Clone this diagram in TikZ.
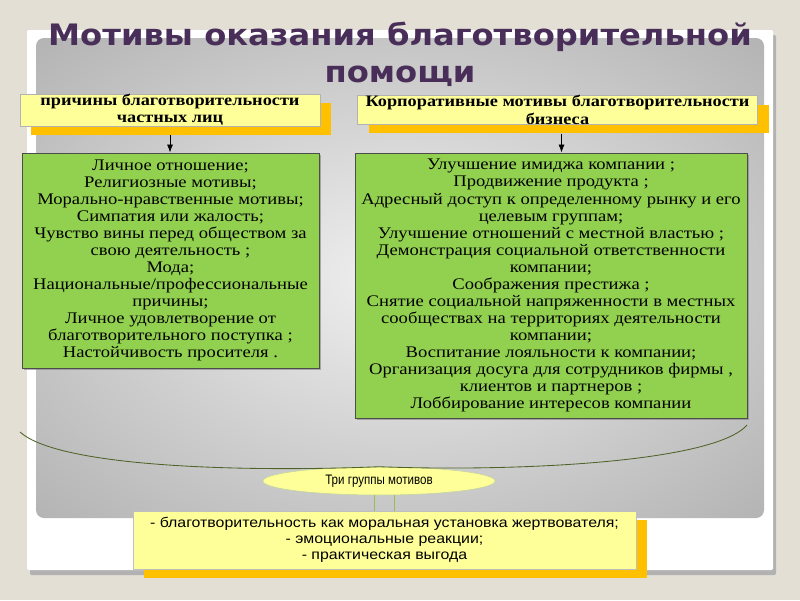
\documentclass[tikz,border=0pt]{standalone}
\usepackage{fontspec}
\setmainfont{Liberation Serif}
\newfontfamily\titlefont[FakeStretch=1.09]{DejaVu Sans}
\newfontfamily\boxserif[FakeStretch=1.15]{Liberation Serif}
\newfontfamily\boxsans[FakeStretch=1.13]{Liberation Sans}
\newfontfamily\narrowsans[FakeStretch=0.84]{Liberation Sans}
\usetikzlibrary{arrows.meta,positioning,shapes.geometric,shadows}

\definecolor{pagebg}{RGB}{228,223,213}
\definecolor{titlec}{RGB}{72,46,88}
\definecolor{lemon}{RGB}{255,255,153}
\definecolor{amber}{RGB}{255,192,0}
\definecolor{leaf}{RGB}{146,208,80}
\definecolor{moss}{RGB}{79,98,40}
\definecolor{sage}{RGB}{155,187,89}
\pgfdeclareradialshading{panelglow}{\pgfpoint{0bp}{0bp}}{color(0bp)=(black!6); color(42bp)=(black!34); color(50bp)=(black!38)}

\begin{document}
\begin{tikzpicture}[x=0.025cm,y=-0.025cm,>=Latex,
  heading/.style={font={\titlefont\bfseries\fontsize{21}{26.3}\selectfont},
    text=titlec,align=center,inner sep=0pt},
  hdr/.style={draw=black!30,line width=.3pt,fill=lemon,align=center,inner sep=0pt,
    minimum height=0.7cm,font={\boxserif\bfseries\fontsize{11.3}{12.3}\selectfont},
    drop shadow={shadow xshift=0.28cm,shadow yshift=-0.225cm,fill=amber,opacity=1}},
  motive/.style={draw=black!70,line width=.5pt,fill=leaf,align=center,inner sep=0pt,
    font={\boxserif\fontsize{11.5}{12.1}\selectfont\lineskiplimit=-20pt},
    drop shadow={shadow xshift=0.05cm,shadow yshift=-0.05cm,fill=black!50,opacity=.6}},
  oval/.style={ellipse,draw=sage!60,line width=.4pt,fill=lemon,inner sep=0pt,
    minimum width=5.8cm,minimum height=0.7cm,font={\narrowsans\fontsize{9.8}{10}\selectfont}},
  summary/.style={draw=black!25,line width=.3pt,fill=lemon,align=center,inner sep=0pt,
    minimum width=12.575cm,minimum height=1.45cm,
    font={\boxsans\fontsize{10}{11.3}\selectfont\lineskiplimit=-20pt},
    drop shadow={shadow xshift=0.275cm,shadow yshift=-0.225cm,fill=amber,opacity=1}},
  flow/.style={-{Latex[length=2mm,width=1.5mm]},line width=.5pt,draw=black},
  pipe/.style={line width=.6pt,draw=sage},
  curveline/.style={line width=.6pt,draw=moss}]
\useasboundingbox (0,0) rectangle (800,600);
\fill[pagebg] (0,0) rectangle (800,600);
% slide frame and panel
\fill[black!30,rounded corners=1pt] (30,35) rectangle (776,575);
\fill[white,rounded corners=1pt] (27,30) rectangle (773,570);
\shade[shading=panelglow,rounded corners=0.2cm] (36,38) rectangle (764,518);
\node[heading] (title) at (400,54) {Мотивы оказания благотворительной\\помощи};
% two groups of motives
\node[hdr,minimum width=7.5cm] (phead) at (170,110)
  {причины благотворительности\\частных лиц};
\node[hdr,minimum width=10.0cm] (chead) at (557.5,110)
  {Корпоративные мотивы благотворительности\\бизнеса};
\node[motive,minimum width=7.43cm,minimum height=5.38cm] (pbox) at (170.5,260.5)
  {Личное отношение;\\Религиозные мотивы;\\Морально-нравственные мотивы;\\
   Симпатия или жалость;\\Чувство вины перед обществом за\\свою деятельность ;\\
   Мода;\\Национальные/профессиональные\\причины;\\Личное удовлетворение от\\
   благотворительного поступка ;\\Настойчивость просителя .};
\node[motive,minimum width=9.8cm,minimum height=6.63cm] (cbox) at (551,285.5)
  {Улучшение имиджа компании ;\\Продвижение продукта ;\\
   Адресный доступ к определенному рынку и его\\целевым группам;\\
   Улучшение отношений с местной властью ;\\Демонстрация социальной ответственности\\
   компании;\\Соображения престижа ;\\Снятие социальной напряженности в местных\\
   сообществах на территориях деятельности\\компании;\\Воспитание лояльности к компании;\\
   Организация досуга для сотрудников фирмы ,\\клиентов и партнеров ;\\
   Лоббирование интересов компании};
\draw[flow] ([yshift=-0.225cm]phead.south) -- (phead.south |- pbox.north);
\draw[flow] ([xshift=0.1cm,yshift=-0.225cm]chead.south) -- ([xshift=0.1cm]chead.south |- cbox.north);
% summary
\node[oval] (tri) at (379,481) {Три группы мотивов};
\node[summary] (groups) at (384.5,540)
  {- благотворительность как моральная установка жертвователя;\\
   - эмоциональные реакции;\\- практическая выгода};
\coordinate (lcurl) at (20,432);
\coordinate (rcurl) at (747,425);
\draw[curveline] (lcurl) .. controls (60,468) and (250,472) .. (tri.north)
  .. controls (520,472) and (715,462) .. (rcurl);
\draw[pipe] ([xshift=-0.26cm]groups.north) -- ([xshift=-0.26cm]groups.north |- tri.south);
\draw[pipe] ([xshift=0.26cm]groups.north) -- ([xshift=0.26cm]groups.north |- tri.south);
\end{tikzpicture}
\end{document}
